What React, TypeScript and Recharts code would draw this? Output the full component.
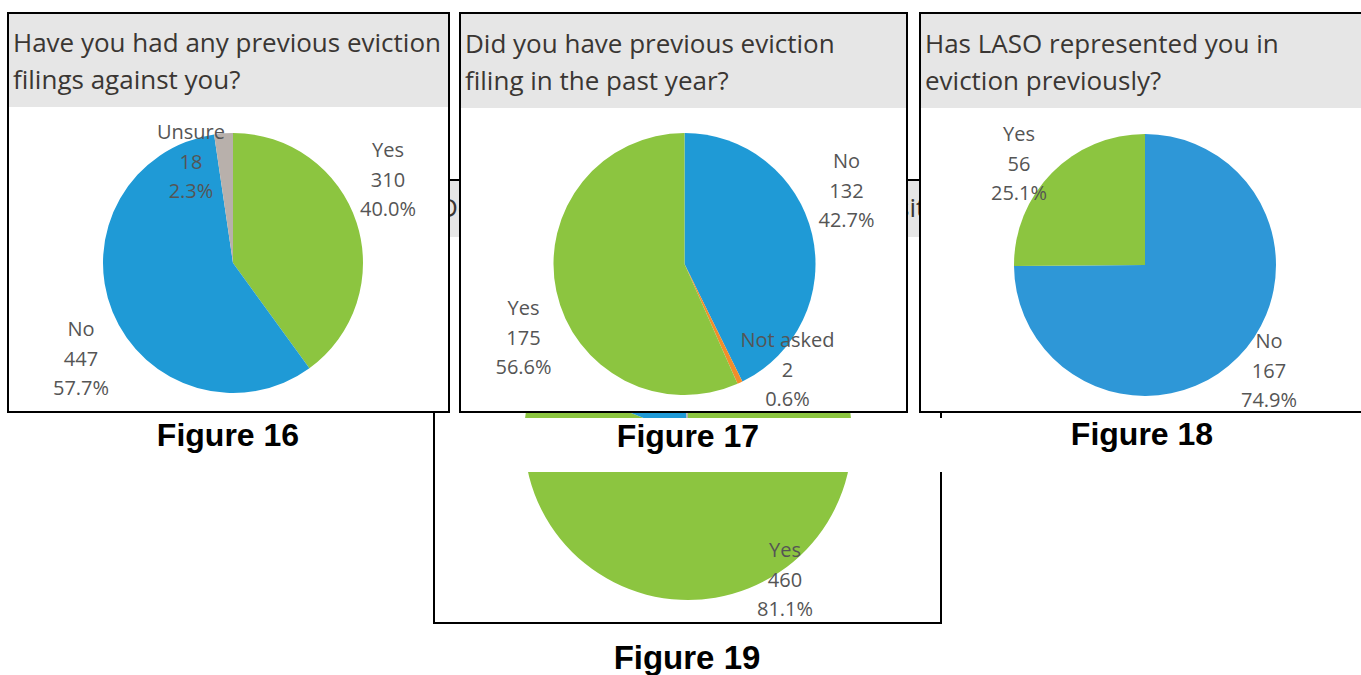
import React from 'react';
import { PieChart, Pie, Cell } from 'recharts';

// ---------- data ----------
const fig16Categories = ['Yes', 'No', 'Unsure'];
const fig16Values = [310, 447, 18];

const fig17Categories = ['No', 'Not asked', 'Yes'];
const fig17Values = [132, 2, 175];

const fig18Categories = ['No', 'Yes'];
const fig18Values = [167, 56];

const fig19Categories = ['Yes', 'No', 'Unsure'];
const fig19Values = [460, 100, 7];

const fig16Title = ['Have you had any previous eviction', 'filings against you?'];
const fig17Title = ['Did you have previous eviction', 'filing in the past year?'];
const fig18Title = ['Has LASO represented you in', 'eviction previously?'];
const fig19Title = ['Do you currently have a security deposit?'];

const captions = ['Figure 16', 'Figure 17', 'Figure 18', 'Figure 19'];

// ---------- styles ----------
const GREEN = '#8cc540';
const BLUE = '#1f9ad6';
const BLUE18 = '#2e97d7';
const GRAY = '#b8b0ab';
const ORANGE = '#f28e2b';
const FONT = "'Open Sans', sans-serif";

const colorMap: Record<string, string> = {
  Yes: GREEN,
  No: BLUE,
  Unsure: GRAY,
  'Not asked': ORANGE,
};

type Offset = [number, number] | null;

interface FigProps {
  left: number;
  top: number;
  width: number;
  height: number;
  band: number;
  titleLines: string[];
  titleTop: number;
  categories: string[];
  values: number[];
  cx: number;
  cy: number;
  r: number;
  labelOffsets: Offset[];
  colors?: string[];
}

function Figure(p: FigProps) {
  const total = p.values.reduce((a, b) => a + b, 0);
  const data = p.categories.map((c, i) => ({
    name: c,
    value: p.values[i],
    pct: ((p.values[i] / total) * 100).toFixed(1) + '%',
  }));
  const renderLabel = (lp: any) => {
    const idx = lp.index;
    const off = p.labelOffsets[idx];
    if (!off) return <g key={'l' + idx} />;
    const x = lp.cx + off[0];
    const y = lp.cy + off[1];
    const d = data[idx];
    return (
      <text
        key={'l' + idx}
        x={x}
        y={y}
        textAnchor="middle"
        fill="#555555"
        fontFamily={FONT}
        fontSize={20}
      >
        <tspan x={x} y={y - 29.5} dominantBaseline="central">{d.name}</tspan>
        <tspan x={x} y={y} dominantBaseline="central">{d.value}</tspan>
        <tspan x={x} y={y + 29.5} dominantBaseline="central">{d.pct}</tspan>
      </text>
    );
  };
  return (
    <div
      style={{
        position: 'absolute',
        left: p.left,
        top: p.top,
        width: p.width,
        height: p.height,
        background: '#ffffff',
        overflow: 'hidden',
      }}
    >
      <div
        style={{
          position: 'absolute',
          left: 0,
          top: 0,
          width: p.width,
          height: p.band,
          background: '#e6e6e6',
        }}
      />
      {p.titleLines.map((t, i) => (
        <div
          key={i}
          style={{
            position: 'absolute',
            left: 6,
            top: p.titleTop + i * 37,
            fontFamily: FONT,
            fontSize: 26,
            lineHeight: '37px',
            color: '#3a3633',
            whiteSpace: 'nowrap',
          }}
        >
          {t}
        </div>
      ))}
      <div style={{ position: 'absolute', left: 0, top: 0 }}>
        <PieChart width={p.width} height={p.height} margin={{ top: 0, right: 0, bottom: 0, left: 0 }}>
          <Pie
            data={data}
            dataKey="value"
            nameKey="name"
            cx={p.cx}
            cy={p.cy}
            outerRadius={p.r}
            startAngle={90}
            endAngle={-270}
            stroke="none"
            isAnimationActive={false}
            labelLine={false}
            label={renderLabel}
          >
            {data.map((d, i) => (
              <Cell key={i} fill={p.colors ? p.colors[i] : colorMap[d.name]} />
            ))}
          </Pie>
        </PieChart>
      </div>
      <div
        style={{
          position: 'absolute',
          left: 0,
          top: 0,
          width: p.width,
          height: p.height,
          border: '2px solid #000',
          boxSizing: 'border-box',
          pointerEvents: 'none',
        }}
      />
    </div>
  );
}

function Caption({ text, cx, top, size }: { text: string; cx: number; top: number; size: number }) {
  return (
    <div
      style={{
        position: 'absolute',
        left: cx - 120,
        width: 240,
        top,
        textAlign: 'center',
        fontFamily: "'Liberation Sans', Arial, sans-serif",
        fontWeight: 'bold',
        fontSize: size,
        lineHeight: '36px',
        color: '#000',
      }}
    >
      {text}
    </div>
  );
}

export default function App() {
  return (
    <div
      style={{
        position: 'absolute',
        left: 0,
        top: 0,
        width: 1361,
        height: 675,
        background: '#ffffff',
        overflow: 'hidden',
      }}
    >
      {/* Figure 19 (underneath) */}
      <Figure
        left={433}
        top={179}
        width={509}
        height={445}
        band={58}
        titleLines={fig19Title}
        titleTop={10}
        categories={fig19Categories}
        values={fig19Values}
        cx={688 - 433}
        cy={436 - 179}
        r={164}
        labelOffsets={[[97, 143], null, null]}
      />
      {/* white caption band covering Figure 19 */}
      <div style={{ position: 'absolute', left: 436, top: 418, width: 520, height: 54, background: '#fff' }} />

      <Figure
        left={7}
        top={12}
        width={443}
        height={401}
        band={95}
        titleLines={fig16Title}
        titleTop={12}
        categories={fig16Categories}
        values={fig16Values}
        cx={233 - 7}
        cy={263 - 12}
        r={130}
        labelOffsets={[[155, -84], [-152, 95], [-42, -102]]}
      />
      <Figure
        left={459}
        top={12}
        width={449}
        height={401}
        band={96}
        titleLines={fig17Title}
        titleTop={13}
        categories={fig17Categories}
        values={fig17Values}
        cx={684.5 - 459}
        cy={264 - 12}
        r={131}
        labelOffsets={[[162, -74], [103, 105], [-161, 73]]}
      />
      <Figure
        left={919}
        top={12}
        width={460}
        height={401}
        band={96}
        titleLines={fig18Title}
        titleTop={13}
        categories={fig18Categories}
        values={fig18Values}
        cx={1145 - 919}
        cy={265 - 12}
        r={131}
        labelOffsets={[[124, 105], [-126, -102]]}
        colors={[BLUE18, GREEN]}
      />

      <Caption text={captions[0]} cx={228} top={417} size={32} />
      <Caption text={captions[1]} cx={688} top={418} size={32} />
      <Caption text={captions[2]} cx={1142} top={416} size={32} />
      <Caption text={captions[3]} cx={687} top={640} size={33} />
    </div>
  );
}
